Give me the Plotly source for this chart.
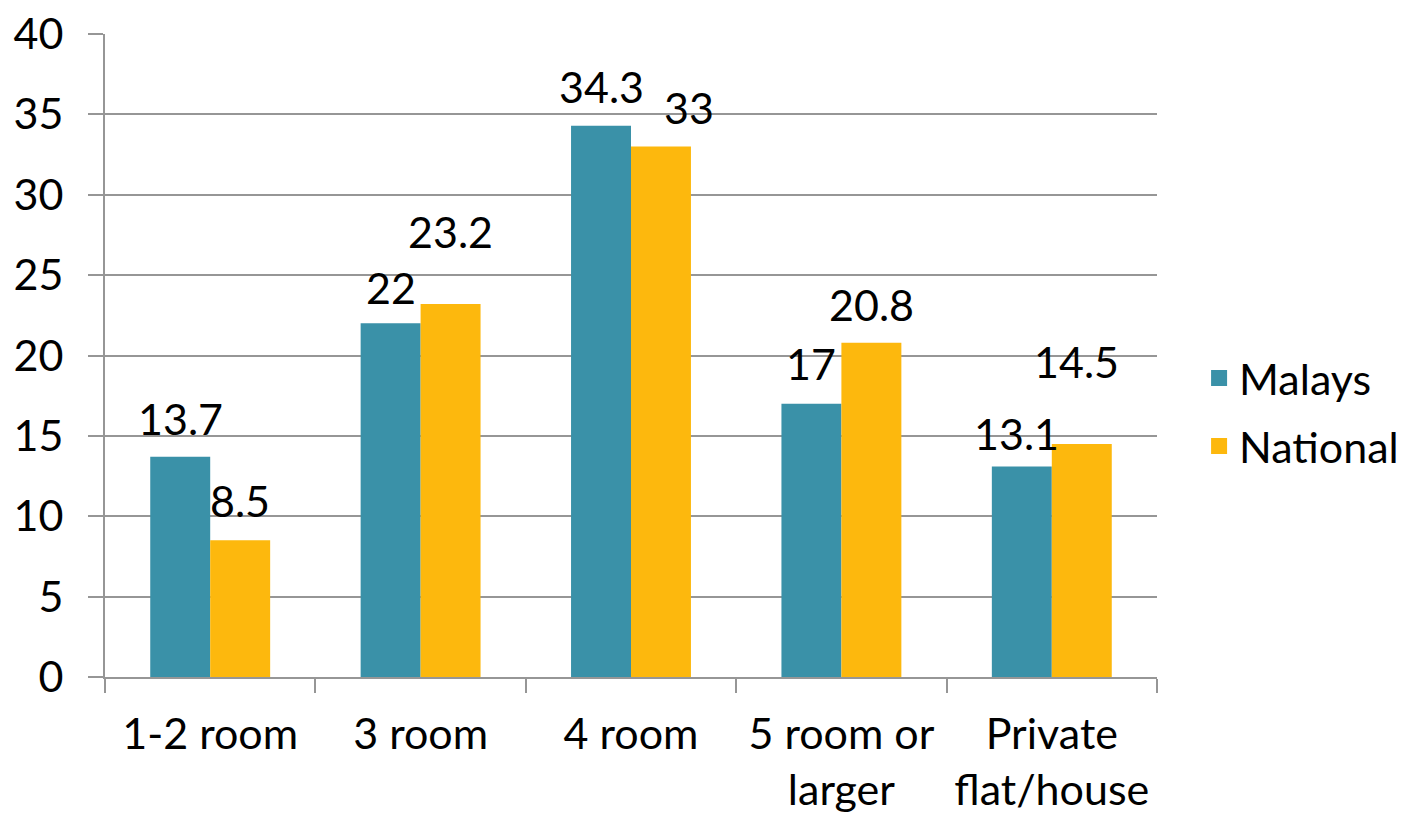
import plotly.graph_objects as go

categories = ["1-2 room", "3 room", "4 room", "5 room or<br>larger", "Private<br>flat/house"]
malays = [13.7, 22, 34.3, 17, 13.1]
national = [8.5, 23.2, 33, 20.8, 14.5]
y_ticks = [0, 5, 10, 15, 20, 25, 30, 35, 40]

TEAL = "#3A91A8"
GOLD = "#FDB80D"
GRID = "#969696"
FONT = "Lato"
FS = 43

# label pixel offsets (style only)
mal_off = [(0, 38), (0, 36), (0, 39), (0, 40), (-5, 33)]
nat_off = [(0, 40), (0, 73), (28, 39), (0, 38), (-5, 82)]

fig = go.Figure()
fig.add_trace(go.Bar(x=categories, y=malays, name="Malays", marker_color=TEAL,
                     marker_line_width=0, showlegend=False))
fig.add_trace(go.Bar(x=categories, y=national, name="National", marker_color=GOLD,
                     marker_line_width=0, showlegend=False))
# legend proxies
fig.add_trace(go.Scatter(x=[None], y=[None], mode="markers", name="Malays", legendgroup="a",
                         marker=dict(symbol="square", size=34, color=TEAL)))
fig.add_trace(go.Scatter(x=[None], y=[None], mode="markers", name="National", legendgroup="b",
                         marker=dict(symbol="square", size=34, color=GOLD)))

for i, c in enumerate(categories):
    for vals, off, sh in ((malays, mal_off, -30), (national, nat_off, 30)):
        fig.add_annotation(x=c, y=vals[i], text=str(vals[i]), showarrow=False,
                           xshift=sh + off[i][0], yshift=off[i][1],
                           font=dict(family=FONT, size=FS, color="black"))

fig.update_layout(
    width=1414, height=816,
    margin=dict(l=97, r=265, t=26, b=147, autoexpand=False),
    plot_bgcolor="white", paper_bgcolor="white",
    barmode="group", bargap=0.43, bargroupgap=0,
    font=dict(family=FONT, size=FS, color="black"),
    legend=dict(x=1.04, y=0.412, yanchor="middle", xanchor="left",
                font=dict(family=FONT, size=FS), itemsizing="trace",
                tracegroupgap=9),
)
fig.update_xaxes(
    showline=True, linecolor=GRID, linewidth=2, automargin=False,
    ticks="outside", tickson="boundaries", ticklen=14, tickcolor=GRID, tickwidth=2,
    showgrid=False, tickfont=dict(family=FONT, size=FS), ticklabelstandoff=18,
)
fig.update_yaxes(
    range=[0, 40], tickvals=y_ticks, showline=True, linecolor=GRID, linewidth=2,
    automargin=False, ticklabeloverflow="allow",
    ticks="outside", ticklen=15, tickcolor=GRID, tickwidth=2,
    showgrid=True, gridcolor=GRID, gridwidth=2, zeroline=False,
    tickfont=dict(family=FONT, size=FS), ticklabelstandoff=16,
)

fig.write_html("out.html")
